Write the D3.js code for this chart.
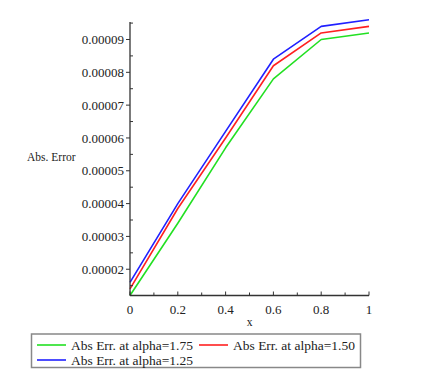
<!DOCTYPE html>
<html>
<head>
<meta charset="utf-8">
<script src="https://cdn.jsdelivr.net/npm/d3@7"></script>
<style>
  body { margin: 0; background: #fff; }
  text { font-family: "Liberation Serif", "Times New Roman", serif; fill: #222; }
</style>
</head>
<body>
<div id="chart"></div>
<script>
const xValues = [0, 0.2, 0.4, 0.6, 0.8, 1];
const err175 = [1.2e-5, 3.4e-5, 5.7e-5, 7.8e-5, 9.0e-5, 9.2e-5];
const err150 = [1.4e-5, 3.85e-5, 6.0e-5, 8.2e-5, 9.2e-5, 9.4e-5];
const err125 = [1.6e-5, 4.0e-5, 6.2e-5, 8.4e-5, 9.4e-5, 9.6e-5];
const seriesNames = ["Abs Err. at alpha=1.75", "Abs Err. at alpha=1.50", "Abs Err. at alpha=1.25"];
const seriesColors = ["#22e022", "#ff2020", "#2020ff"];
const yTicks = [2e-5, 3e-5, 4e-5, 5e-5, 6e-5, 7e-5, 8e-5, 9e-5];
const yMinor = [1.5e-5, 2.5e-5, 3.5e-5, 4.5e-5, 5.5e-5, 6.5e-5, 7.5e-5, 8.5e-5, 9.5e-5];
const xTicks = [0, 0.2, 0.4, 0.6, 0.8, 1];
const xMinor = [0.1, 0.3, 0.5, 0.7, 0.9];

const W = 422, H = 377;
const svg = d3.select("#chart").append("svg")
    .attr("width", W)
    .attr("height", H);

const x = d3.scaleLinear().domain([0, 1]).range([130, 369]);
const y = d3.scaleLinear().domain([1.2e-5, 9.6e-5]).range([295.5, 19.8]);

// lines
const allSeries = [err175, err150, err125];
const line = d3.line()
    .x((d, i) => x(xValues[i]))
    .y(d => y(d));

allSeries.forEach((s, k) => {
    svg.append("path")
        .datum(s)
        .attr("d", line)
        .attr("fill", "none")
        .attr("stroke", seriesColors[k])
        .attr("stroke-width", 1.6)
        .attr("stroke-linejoin", "round");
});

// y axis
const yAxis = svg.append("g").attr("transform", `translate(${x(0)},0)`);
yAxis.append("line")
    .attr("x1", 0).attr("x2", 0)
    .attr("y1", 22).attr("y2", y(1.2e-5))
    .attr("stroke", "#333").attr("stroke-width", 1.3);
yAxis.selectAll(".maj").data(yTicks).join("line")
    .attr("x1", -4).attr("x2", 0)
    .attr("y1", d => y(d)).attr("y2", d => y(d))
    .attr("stroke", "#333");
yAxis.selectAll(".min").data(yMinor).join("line")
    .attr("class", "min")
    .attr("x1", 0).attr("x2", 3)
    .attr("y1", d => y(d)).attr("y2", d => y(d))
    .attr("stroke", "#333");
yAxis.selectAll("text").data(yTicks).join("text")
    .attr("x", -6)
    .attr("y", d => y(d))
    .attr("dy", "0.35em")
    .attr("text-anchor", "end")
    .style("font-size", "13px")
    .text(d3.format(".5f"));

// x axis
const xAxis = svg.append("g").attr("transform", `translate(0,${y(1.2e-5)})`);
xAxis.append("line")
    .attr("x1", x(0)).attr("x2", x(1))
    .attr("y1", 0).attr("y2", 0)
    .attr("stroke", "#333").attr("stroke-width", 1.3);
xAxis.selectAll(".maj").data(xTicks).join("line")
    .attr("x1", d => x(d)).attr("x2", d => x(d))
    .attr("y1", -4).attr("y2", 0)
    .attr("stroke", "#333");
xAxis.selectAll(".min").data(xMinor).join("line")
    .attr("class", "min")
    .attr("x1", d => x(d)).attr("x2", d => x(d))
    .attr("y1", -3).attr("y2", 0)
    .attr("stroke", "#333");
xAxis.selectAll("text").data(xTicks).join("text")
    .attr("x", d => x(d))
    .attr("y", 18)
    .attr("text-anchor", "middle")
    .style("font-size", "13px")
    .text(d => d3.format("")(d));

// axis titles
svg.append("text")
    .attr("x", 27).attr("y", 161)
    .style("font-size", "11.5px")
    .text("Abs. Error");
svg.append("text")
    .attr("x", (x(0) + x(1)) / 2).attr("y", 326)
    .attr("text-anchor", "middle")
    .style("font-size", "11.5px")
    .text("x");

// legend
const legend = svg.append("g");
legend.append("rect")
    .attr("x", 31.5).attr("y", 334)
    .attr("width", 329).attr("height", 33.5)
    .attr("fill", "#fff")
    .attr("stroke", "#888")
    .attr("stroke-width", 1.5);
const legendPos = [
    { lx: 37, ty: 345 },
    { lx: 199, ty: 345 },
    { lx: 37, ty: 360 }
];
seriesNames.forEach((name, k) => {
    const p = legendPos[k];
    legend.append("line")
        .attr("x1", p.lx).attr("x2", p.lx + 29)
        .attr("y1", p.ty).attr("y2", p.ty)
        .attr("stroke", seriesColors[k])
        .attr("stroke-width", 1.6);
    legend.append("text")
        .attr("x", p.lx + 34)
        .attr("y", p.ty)
        .attr("dy", "0.35em")
        .style("font-size", "13.5px")
        .text(name);
});
</script>
</body>
</html>
